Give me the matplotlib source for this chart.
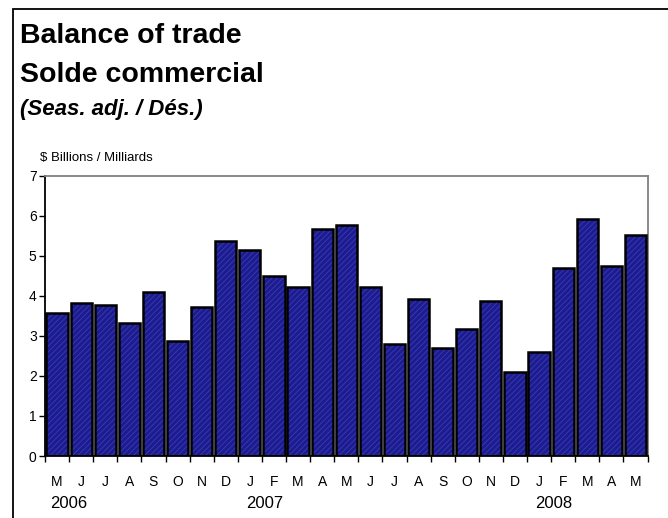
import numpy as np
import matplotlib
matplotlib.use("Agg")
import matplotlib.pyplot as plt
from matplotlib.patches import Rectangle

plt.rcParams['font.family'] = ['Liberation Sans', 'DejaVu Sans']
plt.rcParams['hatch.linewidth'] = 0.6

# Balance commerciale mensuelle, mai 2006 - mai 2008 (milliards $)
mois = ['M', 'J', 'J', 'A', 'S', 'O', 'N', 'D', 'J', 'F', 'M', 'A',
        'M', 'J', 'J', 'A', 'S', 'O', 'N', 'D', 'J', 'F', 'M', 'A', 'M']
solde = [3.57, 3.82, 3.76, 3.33, 4.10, 2.88, 3.72, 5.38, 5.14, 4.49, 4.21, 5.67,
         5.77, 4.21, 2.79, 3.91, 2.69, 3.18, 3.87, 2.10, 2.59, 4.70, 5.91, 4.75, 5.52]
annees = ['2006', '2007', '2008']
debut_annee = [0, 8, 20]   # index du premier mois affiché pour chaque année

fig = plt.figure(figsize=(6.68, 5.18), dpi=100)

# cadre extérieur (seulement gauche et haut visibles)
fig.patches.append(Rectangle((13 / 668, -0.2), 2.0, 1.2 - 9 / 518,
                             transform=fig.transFigure, fill=False,
                             edgecolor='black', linewidth=1.3))

fig.text(20 / 668, 1 - 43 / 518, 'Balance of trade', fontsize=20.5, fontweight='bold')
fig.text(20 / 668, 1 - 82 / 518, 'Solde commercial', fontsize=20.5, fontweight='bold')
fig.text(20 / 668, 1 - 115 / 518, '(Seas. adj. / Dés.)', fontsize=16,
         fontweight='bold', fontstyle='italic')
fig.text(40 / 668, 1 - 161 / 518, '$ Billions / Milliards', fontsize=9.5)

ax = fig.add_axes([45 / 668, 62 / 518, 602.5 / 668, 280.3 / 518])
x = np.arange(len(solde))

# remplissage hachuré puis contour noir
ax.bar(x, solde, width=0.88, color='#1c1c8c', edgecolor='#3a3abf',
       hatch='//////', linewidth=0, zorder=2)
ax.bar(x, solde, width=0.88, fill=False, edgecolor='black', linewidth=1.8, zorder=3)

ax.set_xlim(-0.5, len(solde) - 0.5)
ax.set_ylim(0, 7)
ax.set_yticks(range(8))
ax.tick_params(axis='y', labelsize=10, length=4, width=1, pad=2)

ax.set_xticks(x)
ax.set_xticklabels(mois, fontsize=10)
ax.set_xticks(np.arange(-0.5, len(solde)), minor=True)
ax.tick_params(axis='x', which='major', length=0, pad=14)
ax.tick_params(axis='x', which='minor', length=4, width=1)

for s in ['top', 'right']:
    ax.spines[s].set_color('#808080')
    ax.spines[s].set_linewidth(1.3)
for s in ['left', 'bottom']:
    ax.spines[s].set_color('black')
    ax.spines[s].set_linewidth(1.3)

for an, i in zip(annees, debut_annee):
    ax.text(i - 0.3 if i == 0 else i - 0.15, -1.18, an, fontsize=12,
            ha='left', va='center', transform=ax.transData)

fig.savefig('out.png', dpi=100)
